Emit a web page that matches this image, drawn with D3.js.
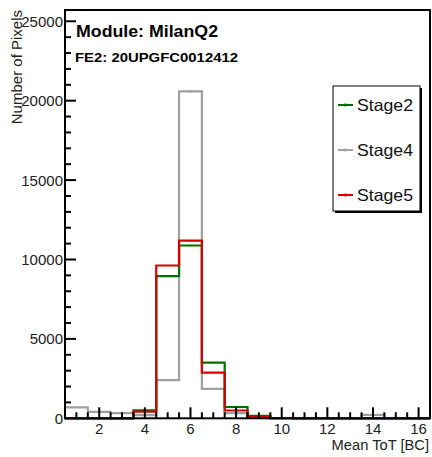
<!DOCTYPE html>
<html><head><meta charset="utf-8">
<script src="https://cdn.jsdelivr.net/npm/d3@7"></script>
<style>body{margin:0;background:#fff}svg{display:block;font-family:"Liberation Sans",Arial,sans-serif}</style>
</head><body><svg id="c" width="432" height="457"></svg>
<script>
const binCenters = [1,2,3,4,5,6,7,8,9,10,11,12,13,14,15,16];
const stage2 = [0,0,0,500,8950,10880,3500,710,150,10,0,0,0,0,0,0];
const stage4 = [690,400,330,200,2410,20580,1850,330,20,10,0,0,0,210,0,0];
const stage5 = [0,0,0,420,9620,11190,2870,490,100,10,0,0,0,0,0,0];
const seriesNames = ["Stage2","Stage4","Stage5"];
const seriesColors = ["#007000","#a0a0a0","#d40000"];
const yTicks = [0,5000,10000,15000,20000,25000];
const xTicks = [2,4,6,8,10,12,14,16];
const title1 = "Module: MilanQ2";
const title2 = "FE2: 20UPGFC0012412";

const svg = d3.select("#c");
const L=65, R=430, T=10, B=418.3;
const x = d3.scaleLinear().domain([0.5,16.5]).range([L,R]);
const y = d3.scaleLinear().domain([0,25710]).range([B,T]);

function stepPath(vals){
  let p = "";
  vals.forEach((v,i)=>{
    const x0=x(binCenters[i]-0.5), x1=x(binCenters[i]+0.5);
    p += (i===0?"M":"L")+x0+","+y(v)+"L"+x1+","+y(v);
  });
  return p;
}
const data=[stage4,stage2,stage5];
const cols=[seriesColors[1],seriesColors[0],seriesColors[2]];
data.forEach((vals,k)=>{
  svg.append("path").attr("d",stepPath(vals)).attr("fill","none")
    .attr("stroke",cols[k]).attr("stroke-width",2.2);
  vals.forEach((v,i)=>{
    if(v<=0) return;
    const e=Math.sqrt(v);
    svg.append("line").attr("x1",x(binCenters[i])).attr("x2",x(binCenters[i]))
      .attr("y1",y(v-e)-1).attr("y2",y(v+e)+1).attr("stroke",cols[k]).attr("stroke-width",2);
  });
});

// frame
svg.append("rect").attr("x",L).attr("y",T).attr("width",R-L).attr("height",B-T)
  .attr("fill","none").attr("stroke","#000").attr("stroke-width",2);

// y ticks
d3.range(1000,25001,1000).forEach(v=>{
  const major = v%5000===0;
  svg.append("line").attr("x1",L).attr("x2",L+(major?11:6)).attr("y1",y(v)).attr("y2",y(v))
    .attr("stroke","#000").attr("stroke-width",2);
});
yTicks.forEach(v=>{
  svg.append("text").attr("x",L-2).attr("y",y(v)+5.5).attr("text-anchor","end")
    .attr("font-size",15).attr("fill","#222").text(v);
});
// x ticks
d3.range(1,16.01,0.5).forEach(v=>{
  const major = v%2===0;
  svg.append("line").attr("x1",x(v)).attr("x2",x(v)).attr("y1",B).attr("y2",B-(major?11:6))
    .attr("stroke","#000").attr("stroke-width",2);
});
xTicks.forEach(v=>{
  svg.append("text").attr("x",x(v)).attr("y",434).attr("text-anchor","middle")
    .attr("font-size",15).attr("fill","#222").text(v);
});
svg.append("text").attr("x",429).attr("y",450).attr("text-anchor","end")
  .attr("font-size",14.7).attr("fill","#222").text("Mean ToT [BC]");
svg.append("text").attr("transform","translate(22,10) rotate(-90)").attr("text-anchor","end")
  .attr("font-size",15).attr("fill","#222").text("Number of Pixels");

svg.append("text").attr("x",76).attr("y",37).attr("font-size",17).attr("font-weight","bold")
  .attr("textLength",142).attr("lengthAdjust","spacingAndGlyphs").text(title1);
svg.append("text").attr("x",75).attr("y",61.5).attr("font-size",13).attr("font-weight","bold")
  .attr("textLength",163).attr("lengthAdjust","spacingAndGlyphs").text(title2);

// legend
const lg = svg.append("g");
lg.append("rect").attr("x",335).attr("y",88).attr("width",87).attr("height",125).attr("fill","#000");
lg.append("rect").attr("x",333).attr("y",86).attr("width",87).attr("height",125)
  .attr("fill","#fff").attr("stroke","#000").attr("stroke-width",1);
const ly=[105,150,195];
seriesNames.forEach((n,i)=>{
  lg.append("line").attr("x1",338).attr("x2",353).attr("y1",ly[i]).attr("y2",ly[i])
    .attr("stroke",seriesColors[i]).attr("stroke-width",2);
  lg.append("line").attr("x1",345.5).attr("x2",345.5).attr("y1",ly[i]-1.5).attr("y2",ly[i]+1.5)
    .attr("stroke",seriesColors[i]).attr("stroke-width",2);
  lg.append("text").attr("x",357).attr("y",ly[i]+6).attr("font-size",16.5).attr("fill","#111")
    .attr("textLength",56).attr("lengthAdjust","spacingAndGlyphs").text(n);
});
</script></body></html>
